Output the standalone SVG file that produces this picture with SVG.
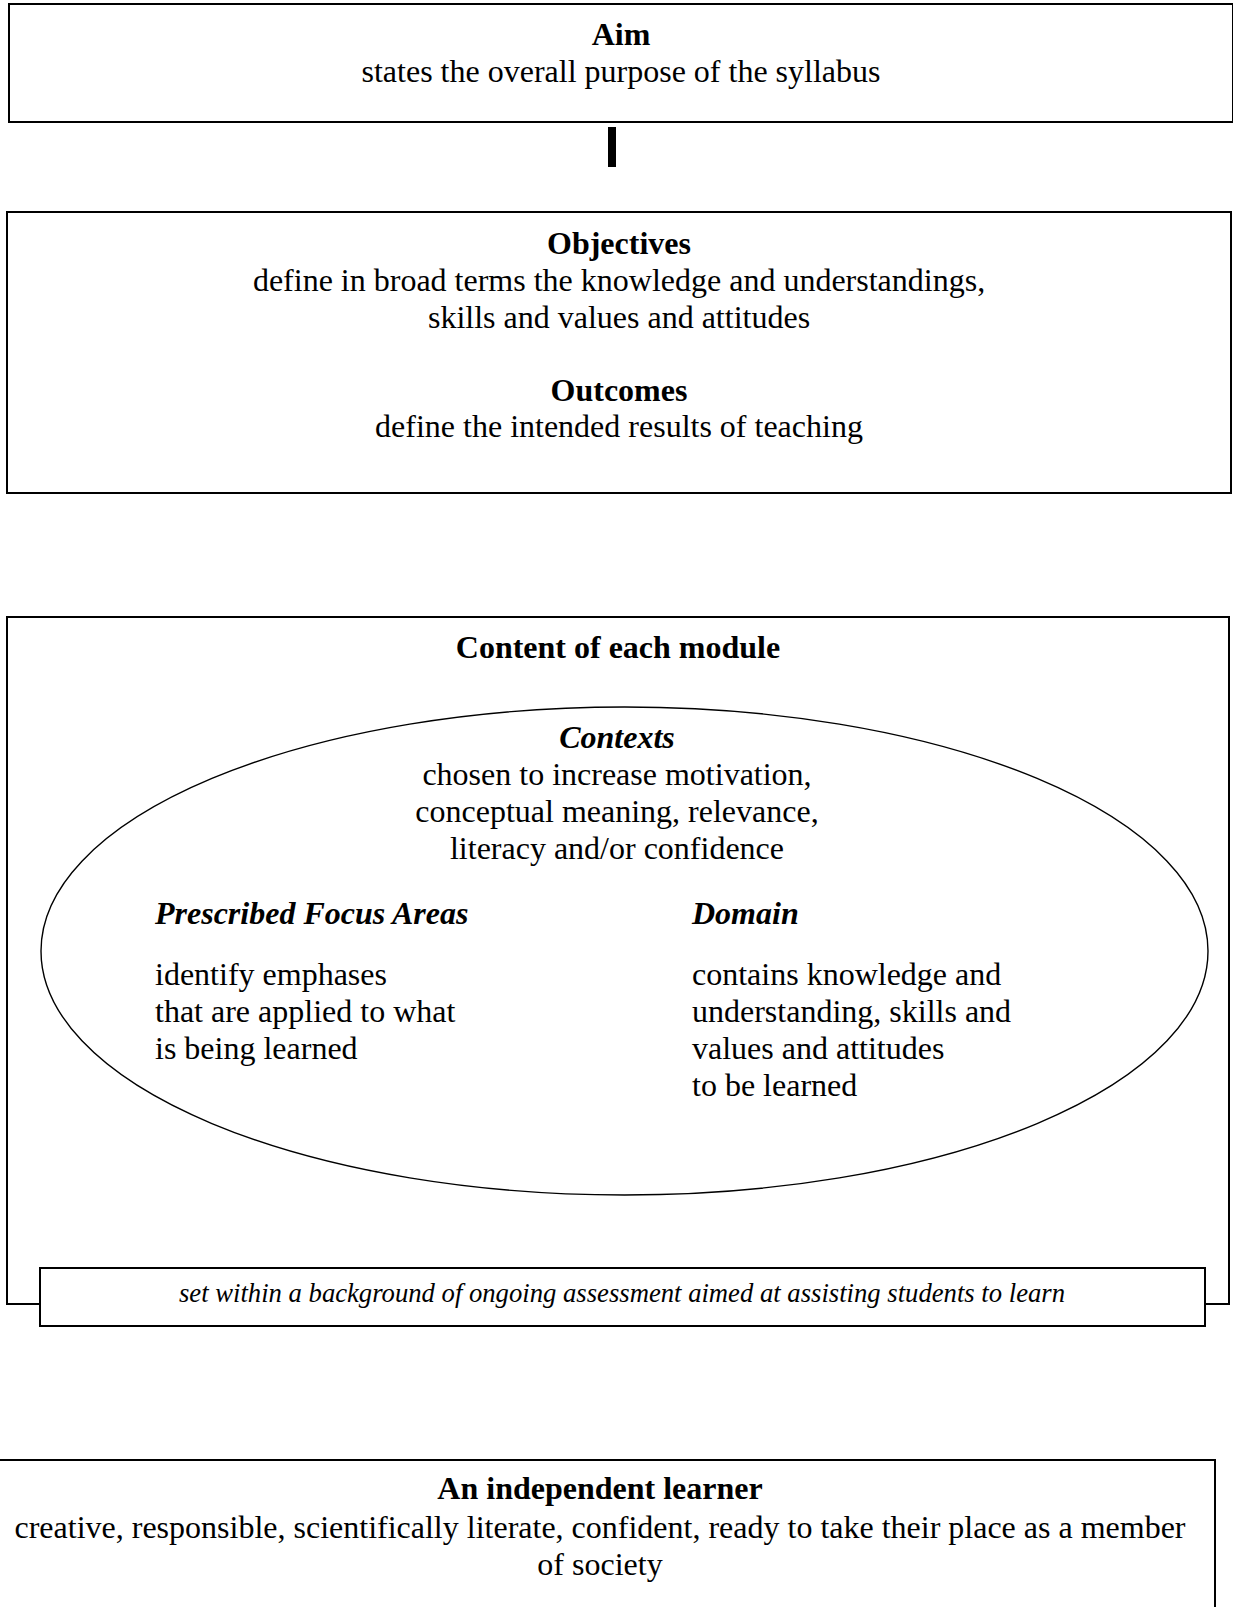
<svg xmlns="http://www.w3.org/2000/svg" width="1233" height="1607" viewBox="0 0 1233 1607">
<style>
.box{fill:#fff;stroke:#000;stroke-width:2}
.ell{fill:none;stroke:#000;stroke-width:1.4}
text{font-family:"Liberation Serif","Times New Roman",serif;font-size:32px;fill:#000}
.c{text-anchor:middle}
.b{font-weight:bold}
.i{font-style:italic}
.s{font-size:26.67px}
</style>
<rect width="1233" height="1607" fill="#fff"/>
<g id="connectors">
<line x1="612" y1="127" x2="612" y2="167" stroke="#000" stroke-width="8"/>
</g>
<g id="aim">
<rect class="box" x="9" y="4" width="1224" height="118"/>
<text class="c b" x="621" y="45">Aim</text>
<text class="c" x="621" y="82">states the overall purpose of the syllabus</text>
</g>
<g id="objectives">
<rect class="box" x="7" y="212" width="1224" height="281"/>
<text class="c b" x="619" y="254">Objectives</text>
<text class="c" x="619" y="291">define in broad terms the knowledge and understandings,</text>
<text class="c" x="619" y="328">skills and values and attitudes</text>
<text class="c b" x="619" y="401">Outcomes</text>
<text class="c" x="619" y="437">define the intended results of teaching</text>
</g>
<g id="content">
<rect class="box" x="7" y="617" width="1222" height="687"/>
<text class="c b" x="618" y="658">Content of each module</text>
<g id="contexts">
<ellipse class="ell" cx="624.5" cy="951" rx="583.5" ry="244"/>
<text class="c b i" x="617" y="748">Contexts</text>
<text class="c" x="617" y="785">chosen to increase motivation,</text>
<text class="c" x="617" y="822">conceptual meaning, relevance,</text>
<text class="c" x="617" y="859">literacy and/or confidence</text>
</g>
<g id="focus-areas">
<text class="b i" x="155" y="924">Prescribed Focus Areas</text>
<text x="155" y="985">identify emphases</text>
<text x="155" y="1022">that are applied to what</text>
<text x="155" y="1059">is being learned</text>
</g>
<g id="domain">
<text class="b i" x="692" y="924">Domain</text>
<text x="692" y="985">contains knowledge and</text>
<text x="692" y="1022">understanding, skills and</text>
<text x="692" y="1059">values and attitudes</text>
<text x="692" y="1096">to be learned</text>
</g>
</g>
<g id="assessment">
<rect class="box" x="40" y="1268" width="1165" height="58"/>
<text class="c i s" x="622" y="1302">set within a background of ongoing assessment aimed at assisting students to learn</text>
</g>
<g id="learner">
<rect class="box" x="-15" y="1460" width="1230" height="170"/>
<text class="c b" x="600" y="1499">An independent learner</text>
<text class="c" x="600" y="1538">creative, responsible, scientifically literate, confident, ready to take their place as a member</text>
<text class="c" x="600" y="1575">of society</text>
</g>
</svg>
